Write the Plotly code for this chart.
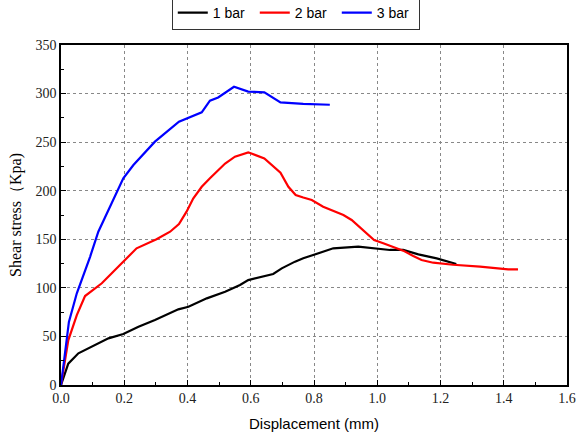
import plotly.graph_objects as go

# 1 bar
x1 = [0, 0.023, 0.055, 0.097, 0.15, 0.197, 0.245, 0.297, 0.345, 0.371, 0.403, 0.461, 0.519, 0.566,
      0.592, 0.635, 0.671, 0.698, 0.74, 0.766, 0.798, 0.861, 0.94, 0.99, 1.04, 1.082, 1.13, 1.188, 1.25]
y1 = [0, 22, 32.6, 39.4, 48, 52.5, 60, 66.9, 73.8, 77.9, 80.6, 89.2, 96, 102.9,
      108, 111.5, 114.3, 120.1, 127, 130.4, 133.8, 140.7, 142.4, 140.7, 139, 139, 134.5, 130.4, 124.6]
# 2 bar
x2 = [0, 0.023, 0.05, 0.076, 0.129, 0.197, 0.239, 0.302, 0.345, 0.373, 0.397, 0.418, 0.445, 0.471,
      0.519, 0.55, 0.592, 0.643, 0.694, 0.719, 0.742, 0.766, 0.793, 0.829, 0.893, 0.919, 0.956, 0.99,
      1.019, 1.051, 1.082, 1.114, 1.14, 1.177, 1.24, 1.325, 1.388, 1.414, 1.445]
y2 = [0, 46, 72, 91.6, 104.7, 127, 140.7, 150, 157.8, 165.7, 178.4, 192, 204, 212.8,
      228, 235, 239.5, 233.3, 218.6, 204, 195.6, 193, 190.4, 183.5, 175, 169.9, 159.6, 149.3,
      145.9, 141.7, 138.3, 132.8, 128.7, 125.9, 123.8, 121.8, 120.1, 119.1, 119.1]
# 3 bar
x3 = [0, 0.025, 0.05, 0.092, 0.118, 0.15, 0.165, 0.197, 0.229, 0.297, 0.373, 0.445, 0.471, 0.497,
      0.547, 0.592, 0.643, 0.694, 0.766, 0.85]
y3 = [0, 65, 94.4, 132, 157.8, 180, 190, 212.8, 226.5, 250.5, 271, 280.7, 292.7, 296,
      307, 302, 301.3, 291, 289.3, 288.5]

series = [("1 bar", x1, y1, "black"), ("2 bar", x2, y2, "#ff0000"), ("3 bar", x3, y3, "#0000ff")]

fig = go.Figure()
for name, xs, ys, c in series:
    fig.add_trace(go.Scatter(x=xs, y=ys, mode="lines", name=name,
                             line=dict(color=c, width=2.2)))

serif = "Liberation Serif, Times New Roman, serif"
sans = "Liberation Sans, Arial, sans-serif"

axis_common = dict(
    showline=True, linecolor="black", linewidth=1.5, mirror=True,
    ticks="inside", ticklen=5, tickcolor="black", tickwidth=1,
    showgrid=True, gridcolor="#888888", griddash="dot", gridwidth=1,
    zeroline=False, tickfont=dict(family=serif, size=14, color="#222222"),
    automargin=False,
)

fig.update_layout(
    width=580, height=436,
    margin=dict(l=61, r=13, t=45, b=51, autoexpand=False),
    paper_bgcolor="white", plot_bgcolor="white",
    showlegend=True,
    legend=dict(orientation="h", x=0.464, xanchor="center", y=1.044, yanchor="bottom",
                bordercolor="#333333", borderwidth=1, font=dict(family=sans, size=14, color="black"),
                entrywidth=37, entrywidthmode="pixels", tracegroupgap=0),
    xaxis=dict(range=[0, 1.6], dtick=0.2, tickformat=".1f",
               minor=dict(ticks="inside", ticklen=3, dtick=0.1, tickcolor="black", showgrid=False),
               title=dict(text="Displacement (mm)", font=dict(family=sans, size=15, color="black"), standoff=14),
               ticklabelstandoff=-1,
               **axis_common),
    yaxis=dict(range=[0, 350], dtick=50,
               minor=dict(ticks="inside", ticklen=3, dtick=25, tickcolor="black", showgrid=False),
               title=dict(text="Shear stress（Kpa)", font=dict(family=serif, size=16, color="black"), standoff=10),
               **axis_common),
)

fig.write_html("out.html", config={"displayModeBar": False},
               post_script="document.body.style.margin='0';")
